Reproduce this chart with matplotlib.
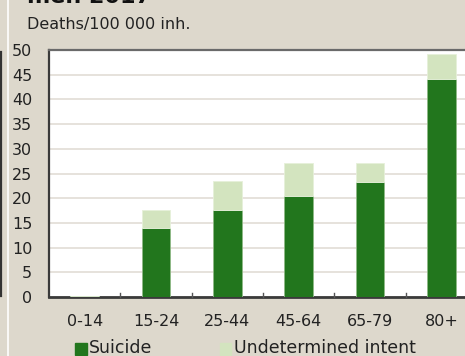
import matplotlib
matplotlib.use("Agg")
import matplotlib.pyplot as plt
from matplotlib.patches import Rectangle
from matplotlib.lines import Line2D

age_groups = ["0-14", "15-24", "25-44", "45-64", "65-79", "80+"]
suicide = [0.3, 13.9, 17.6, 20.4, 23.3, 44.1]
undetermined = [0.0, 3.7, 5.9, 6.8, 3.8, 5.0]
y_ticks = [0, 5, 10, 15, 20, 25, 30, 35, 40, 45, 50]

BG = "#ddd8cc"
GREEN = "#22761d"
LIGHT = "#d3e4bf"
FONT = "DejaVu Sans"

W, H = 465, 356
fig = plt.figure(figsize=(W / 100, H / 100), dpi=100, facecolor=BG)

# plot area runs past the right edge of the figure
ax = fig.add_axes([49 / W, (H - 297) / H, 428 / W, 247 / H])
ax.set_facecolor("white")

x = range(len(age_groups))
ax.bar(x, suicide, width=0.4, color=GREEN, edgecolor="#8fb986", linewidth=0.6, zorder=3)
ax.bar(x, undetermined, bottom=suicide, width=0.4, color=LIGHT,
       edgecolor="#e6f0da", linewidth=0.6, zorder=3)

ax.set_xlim(-0.5, 5.5)
ax.set_ylim(0, 50)
ax.set_yticks(y_ticks)
ax.set_yticklabels([str(v) for v in y_ticks], fontsize=11.5, family=FONT, color="#222222")
ax.yaxis.grid(True, color="#e2ddd5", linewidth=1.2, zorder=0)
ax.tick_params(axis="y", length=0, pad=12)

ax.set_xticks(list(x))
ax.set_xticklabels(age_groups, fontsize=11.5, family=FONT, color="#222222")
ax.tick_params(axis="x", length=0, pad=12)
# category separators on the baseline
for b in [0.5, 1.5, 2.5, 3.5, 4.5]:
    ax.plot([b, b], [0, 0.9], color="#555555", linewidth=1.0, zorder=4, clip_on=False)

for side in ["top", "left", "bottom"]:
    ax.spines[side].set_color("#3a3a3a")
ax.spines["bottom"].set_linewidth(2.0)
ax.spines["left"].set_linewidth(1.6)
ax.spines["top"].set_linewidth(1.6)
ax.spines["top"].set_color("#6a6a6a")
ax.spines["right"].set_visible(False)

# heading (partly above the figure) and unit label
fig.text(27 / W, 1 - 7 / H, "men 2017", fontsize=16, fontweight="bold",
         family=FONT, color="#111111", ha="left", va="bottom")
fig.text(27 / W, 1 - 24 / H, "Deaths/100 000 inh.", fontsize=11.5,
         family=FONT, color="#222222", ha="left", va="center")

# legend along the bottom edge
fig.add_artist(Rectangle((75 / W, 1 - 355 / H), 12 / W, 12 / H,
                         transform=fig.transFigure, color=GREEN))
fig.text(89 / W, 1 - 348 / H, "Suicide", fontsize=12.5, family=FONT,
         color="#222222", ha="left", va="center")
fig.add_artist(Rectangle((220 / W, 1 - 355 / H), 11 / W, 12 / H,
                         transform=fig.transFigure, color=LIGHT))
fig.text(234 / W, 1 - 348 / H, "Undetermined intent", fontsize=12.5, family=FONT,
         color="#222222", ha="left", va="center")

# panel borders on the left
fig.add_artist(Line2D([7.5 / W, 7.5 / W], [0, 1], transform=fig.transFigure,
                      color="white", linewidth=1.2))
fig.add_artist(Line2D([0.8 / W, 0.8 / W], [1 - 296 / H, 1 - 52 / H],
                      transform=fig.transFigure, color="#333333", linewidth=1.6))

fig.savefig("out.png", dpi=100, facecolor=BG)
